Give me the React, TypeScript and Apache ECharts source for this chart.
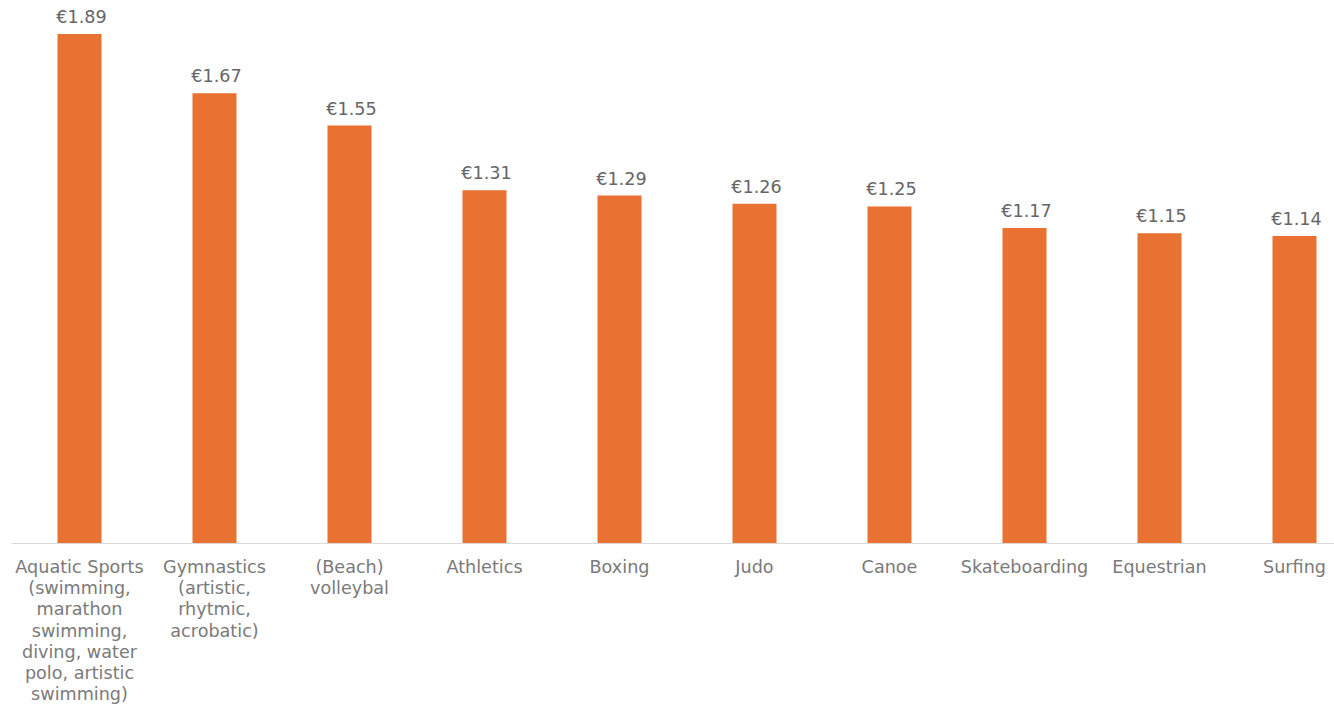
import React, { useEffect, useRef } from "react";
import * as echarts from "echarts";

const categories: string[] = [
  "Aquatic Sports\n(swimming,\nmarathon\nswimming,\ndiving, water\npolo, artistic\nswimming)",
  "Gymnastics\n(artistic,\nrhytmic,\nacrobatic)",
  "(Beach)\nvolleybal",
  "Athletics",
  "Boxing",
  "Judo",
  "Canoe",
  "Skateboarding",
  "Equestrian",
  "Surfing",
];

const values: number[] = [1.89, 1.67, 1.55, 1.31, 1.29, 1.26, 1.25, 1.17, 1.15, 1.14];

export default function App() {
  const ref = useRef<HTMLDivElement>(null);
  useEffect(() => {
    if (!ref.current) return;
    const chart = echarts.init(ref.current, undefined, { renderer: "svg" });
    chart.setOption({
      animation: false,
      backgroundColor: "#ffffff",
      grid: { left: 12, right: 0, top: 4.4, bottom: 165, containLabel: false },
      xAxis: {
        type: "category",
        data: categories,
        axisLine: { show: true, lineStyle: { color: "#D9D9D9", width: 1 } },
        axisTick: { show: false },
        axisLabel: {
          interval: 0,
          fontFamily: "DejaVu Sans",
          fontSize: 17.6,
          lineHeight: 21.3,
          color: "#7a7a7a",
          margin: 13,
          align: "center",
        },
      },
      yAxis: {
        type: "value",
        min: 0,
        max: 2,
        show: false,
        splitLine: { show: false },
      },
      series: [
        {
          type: "bar",
          data: values,
          barWidth: 44,
          itemStyle: { color: "#E97132" },
          label: {
            show: true,
            position: "top",
            distance: 8,
            offset: [2, 0],
            formatter: (p: any) => "€" + Number(p.value).toFixed(2),
            fontFamily: "DejaVu Sans",
            fontSize: 17.6,
            color: "#666666",
          },
        },
      ],
    });
    return () => chart.dispose();
  }, []);
  return (
    <div style={{ position: "absolute", left: 0, top: 0, width: 1334, height: 708, overflow: "hidden" }}>
      <div ref={ref} style={{ width: 1362, height: 708 }} />
    </div>
  );
}
